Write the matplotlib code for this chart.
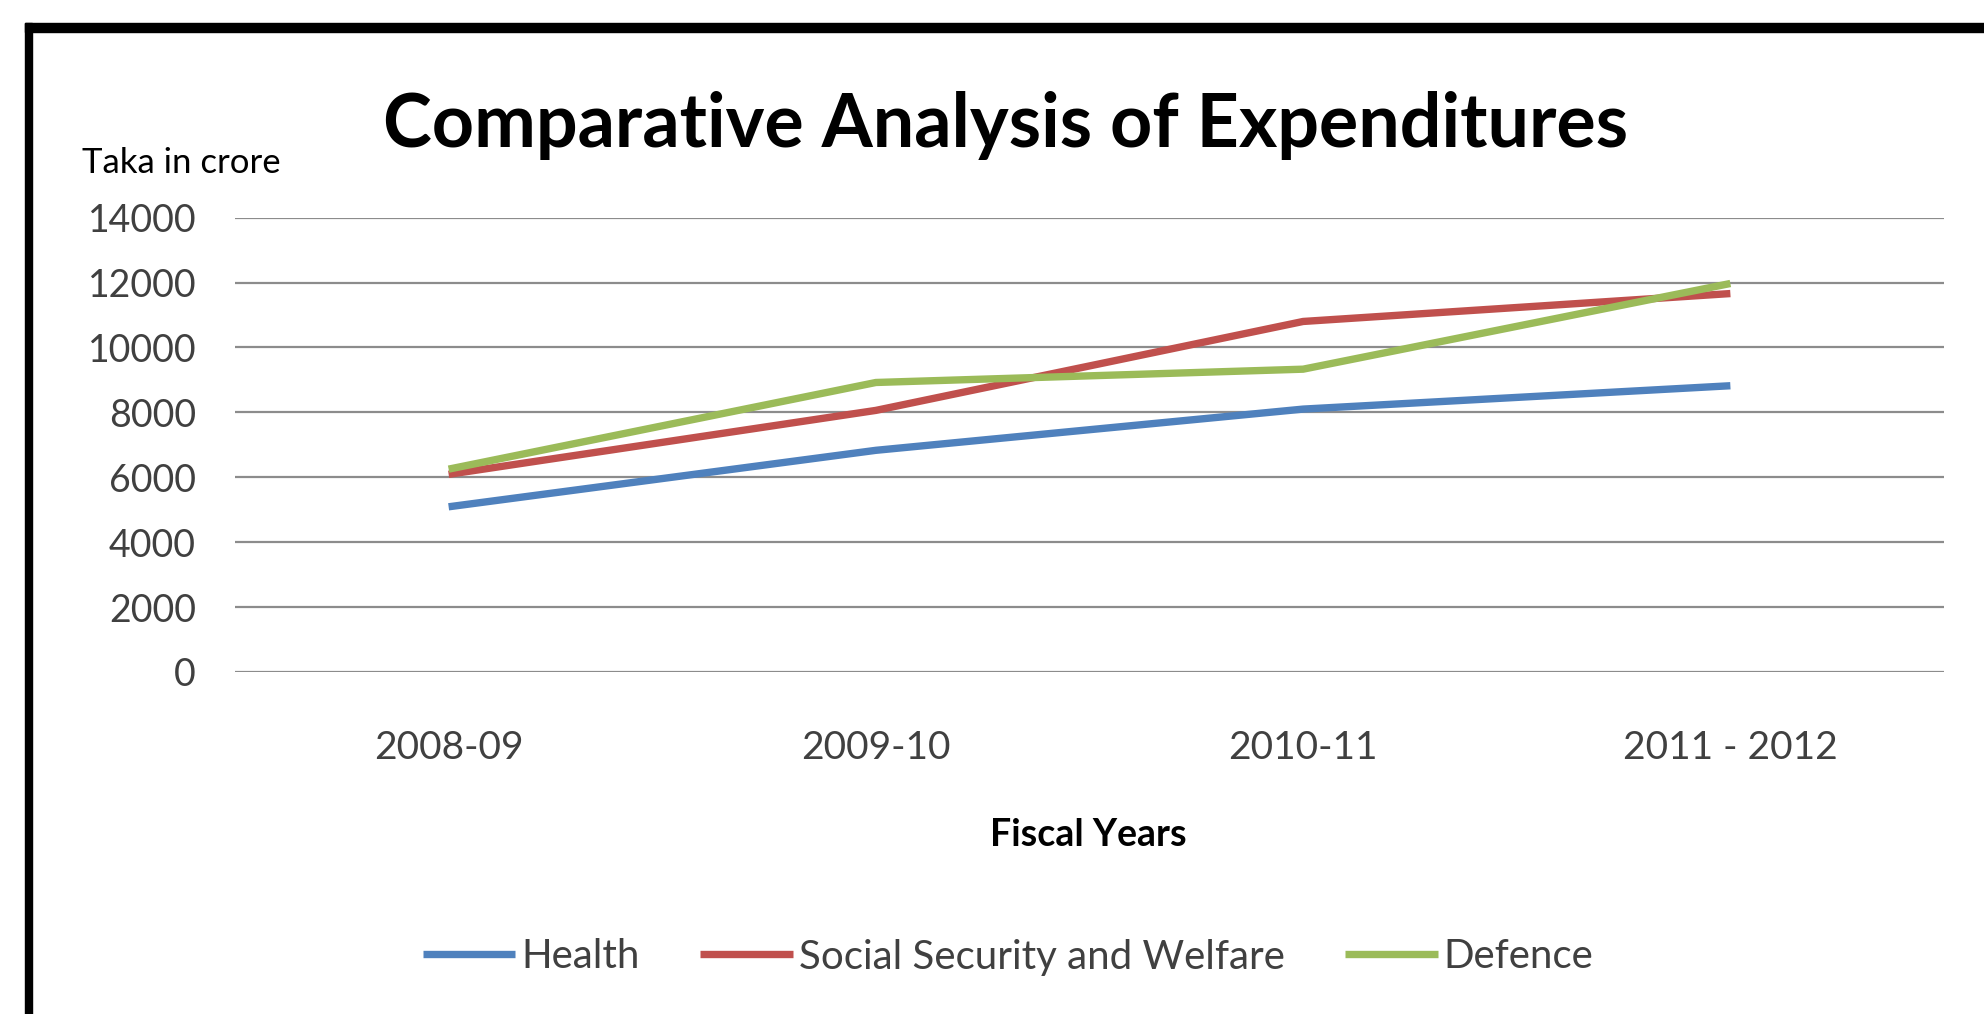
import matplotlib
matplotlib.use("Agg")
import matplotlib.pyplot as plt
from matplotlib.patches import Rectangle

plt.rcParams['font.family'] = ['Lato', 'DejaVu Sans']

years = ["2008-09", "2009-10", "2010-11", "2011 - 2012"]
health = [5090, 6830, 8100, 8820]
social = [6090, 8060, 10800, 11660]
defence = [6250, 8920, 9330, 11970]
yticks = [0, 2000, 4000, 6000, 8000, 10000, 12000, 14000]

W, H = 1984, 1014
fig = plt.figure(figsize=(W / 100, H / 100), dpi=100)
fig.set_facecolor("white")

# frame drawn round the chart (top and left edges only are visible)
fig.patches.append(Rectangle((25 / W, 1 - 32 / H), 1 - 25 / W, 9 / H,
                             transform=fig.transFigure, color="black", zorder=5))
fig.patches.append(Rectangle((25 / W, 0), 7 / W, 1 - 23 / H,
                             transform=fig.transFigure, color="black", zorder=5))

ax = fig.add_axes([235 / W, 1 - 672 / H, (1944 - 235) / W, (672 - 217.6) / H])
x = range(len(years))
ax.plot(x, health, color="#4F81BD", lw=5.3, label="Health", solid_capstyle="butt")
ax.plot(x, social, color="#C0504D", lw=5.3, label="Social Security and Welfare", solid_capstyle="butt")
ax.plot(x, defence, color="#9BBB59", lw=5.3, label="Defence", solid_capstyle="butt")

ax.set_xlim(-0.5, len(years) - 0.5)
ax.set_ylim(0, 14000)
ax.set_yticks(yticks)
ax.set_yticklabels([str(v) for v in yticks], fontsize=27, color="#404040")
ax.set_xticks(list(x))
ax.set_xticklabels(years, fontsize=28, color="#404040")
ax.tick_params(length=0, pad=28)
ax.tick_params(axis="x", pad=42)
ax.yaxis.grid(True, color="#8c8c8c", lw=1.6)
ax.set_axisbelow(True)
for s in ax.spines.values():
    s.set_visible(False)

fig.text(1006 / W, 1 - 126 / H, "Comparative Analysis of Expenditures",
         fontsize=53, fontweight="bold", ha="center", va="center")
fig.text(82 / W, 1 - 163 / H, "Taka in crore", fontsize=25, ha="left", va="center")
fig.text(1088 / W, 1 - 835 / H, "Fiscal Years", fontsize=27, fontweight="bold",
         ha="center", va="center")

fig.legend(loc="center", bbox_to_anchor=(1008 / W, 1 - 957 / H), ncol=3,
           frameon=False, fontsize=29, handlelength=2.3, handletextpad=0.15,
           columnspacing=1.5, labelcolor="#404040")

fig.savefig("out.png", dpi=100)
